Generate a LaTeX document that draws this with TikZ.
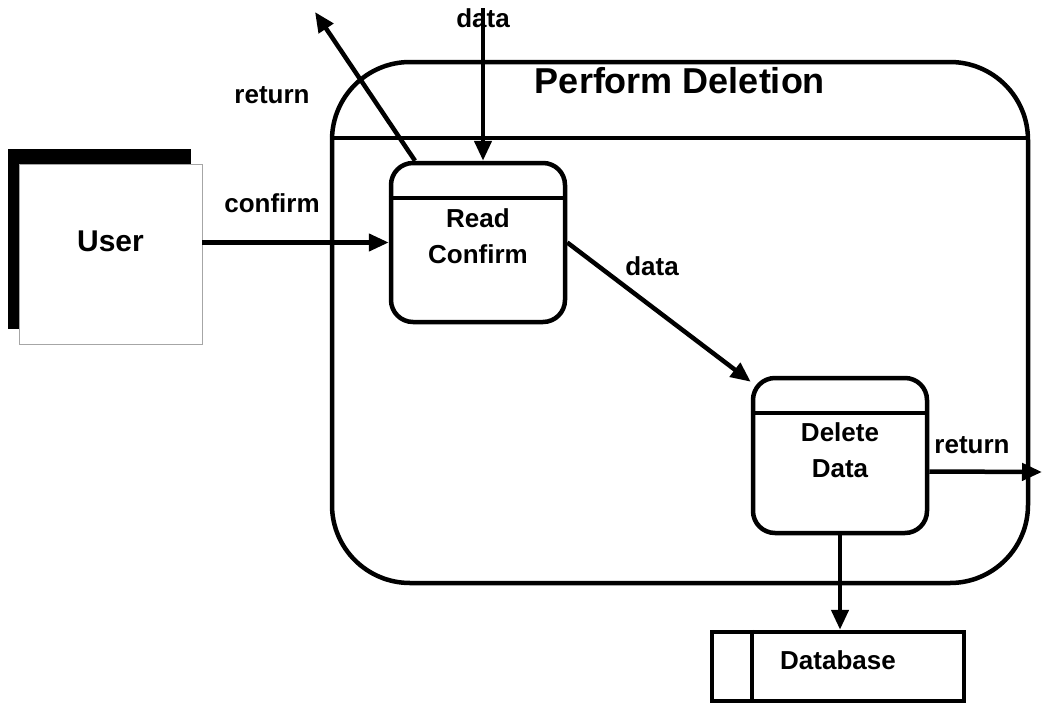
\documentclass[tikz,border=0pt]{standalone}
\usepackage{fontspec}
\setmainfont{Liberation Sans}
\usetikzlibrary{arrows.meta,shadows}

\tikzset{
	proc/.style={draw, line width=4.5pt, rounded corners=22pt, minimum width=174pt, inner sep=0pt},
	flow/.style={line width=4.5pt, -{Triangle[length=20pt,width=17pt]}},
	lbl/.style={font=\fontsize{26}{30}\selectfont\bfseries, inner sep=0pt},
	ptext/.style={font=\fontsize{26}{36}\selectfont\bfseries, align=center, inner sep=0pt}
}

\begin{document}
\begin{tikzpicture}[x=1pt,y=-1pt]
				\useasboundingbox (0,0) rectangle (1042,704);
				% Draw outer process
				\node[draw, line width=4.5pt, rounded corners=78pt, minimum width=696pt, minimum height=521pt] (perform) at (680,322.5) {};
				\draw[line width=4pt] ([yshift=-78pt]perform.north west) -- ([yshift=-78pt]perform.north east);
				\node[font=\fontsize{36}{40}\selectfont\bfseries, inner sep=0pt] (title) at (680,81) {Perform Deletion};
				% Draw user
				\node[fill=white, draw=gray!70, line width=0.8pt, minimum width=183pt, minimum height=180pt, drop shadow={shadow xshift=-11pt, shadow yshift=15pt, fill=black, opacity=1}] (user) at (110.5,254) {};
				\node[font=\fontsize{30}{34}\selectfont\bfseries, inner sep=0pt] (usertext) at ([yshift=13pt]user.center) {User};
				% Draw inner processes
				\node[proc, minimum height=159pt] (read) at (478,242.5) {};
				\draw[line width=4pt] ([yshift=-37pt]read.north west) -- ([yshift=-37pt]read.north east);
				\node[ptext] (readtext) at ([yshift=6.5pt]read.center) {Read\\Confirm};
				\node[proc, minimum height=155pt] (del) at (840,455.5) {};
				\draw[line width=4pt] ([yshift=-37pt]del.north west) -- ([yshift=-37pt]del.north east);
				\node[ptext] (deltext) at ([yshift=5.5pt]del.center) {Delete\\Data};
				% Draw data store
				\node[draw, line width=4.5pt, minimum width=252pt, minimum height=69pt, inner sep=0pt] (db) at (838,666.5) {};
				\draw[line width=4pt] ([xshift=42pt]db.north west) -- ([xshift=42pt]db.south west);
				\node[lbl] (dbtext) at ([yshift=6.5pt]db.center) {Database};
				% Labels
				\node[lbl] (l1) at (483,18) {data};
				\node[lbl] (l2) at (272,95) {return};
				\node[lbl] (l3) at (272,203) {confirm};
				\node[lbl] (l4) at (652,266) {data};
				\node[lbl] (l5) at (972,445) {return};
				% Draw flows
				\coordinate (dtop) at (483,8);
				\coordinate (rtop) at (315,12);
				\coordinate (rout) at (1042,472);
				\draw[flow] (dtop) -- ([xshift=5pt]read.north);
				\draw[flow] ([xshift=-63pt]read.north) -- (rtop);
				\draw[flow] (read.west -| user.east) -- (read.west);
				\draw[flow] (read.east) -- ([yshift=-6pt]del.north west);
				\draw[flow] ([yshift=-16pt]del.east) -- (rout);
				\draw[flow] (del.south) -- (del.south |- db.north);
			\end{tikzpicture}
\end{document}
